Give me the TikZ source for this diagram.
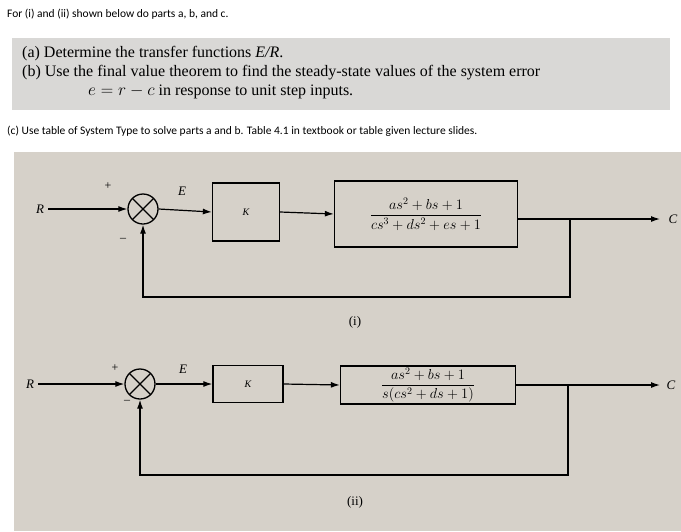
\documentclass[tikz,border=0pt]{standalone}
\usepackage{fontspec}
\setmainfont{Liberation Serif}
\newfontfamily\carlitofont{Carlito}
\usetikzlibrary{arrows.meta}
\definecolor{photo}{HTML}{D6D1C9}
\definecolor{qbox}{HTML}{D9D8D6}
\begin{document}
\begin{tikzpicture}[x=1pt,y=-1pt,
  blk/.style={draw,line width=1.3pt,inner sep=0pt},
  sig/.style={line width=1.2pt,-{Latex[length=9pt,width=6pt]}},
  ln/.style={line width=1.2pt},
  sumj/.style={draw,circle,line width=1.3pt,minimum size=30pt,inner sep=0pt,path picture={\draw[line width=1.2pt] (path picture bounding box.north west)--(path picture bounding box.south east) (path picture bounding box.north east)--(path picture bounding box.south west);}},
  lbl/.style={inner sep=0pt,font=\fontsize{13}{13}\selectfont\itshape}]
\useasboundingbox (0,0) rectangle (681,531);
\fill[white] (0,0) rectangle (681,531);
\fill[photo] (14,152) rectangle (681,531);
\fill[qbox] (12,38) rectangle (670,110);
\node[anchor=west,inner sep=0pt,font=\carlitofont\fontsize{11.5}{12}\selectfont] (t1) at (7,14) {For (i) and (ii) shown below do parts a, b, and c.};
\node[anchor=west,inner sep=0pt,font=\fontsize{16}{16}\selectfont] (ta) at (22,54) {(a) Determine the transfer functions \textit{E/R}.};
\node[anchor=west,inner sep=0pt,font=\fontsize{16}{16}\selectfont] (tb) at (22,73) {(b) Use the final value theorem to find the steady-state values of the system error};
\node[anchor=west,inner sep=0pt,font=\fontsize{16}{16}\selectfont] (tc) at (88,92) {$e=r-c$ in response to unit step inputs.};
\node[anchor=west,inner sep=0pt,font=\carlitofont\fontsize{11.5}{12}\selectfont] (t2) at (7,131) {(c) Use table of System Type to solve parts a and b. Table 4.1 in textbook or table given lecture slides.};
% diagram (i)
\node[lbl] (R1) at (40,209) {R};
\node[sumj] (S1) at (143,209) {};
\node[blk,minimum width=67pt,minimum height=58pt] (K1) at (246,212) {\itshape K};
\node[blk,minimum width=183pt,minimum height=66pt,font=\fontsize{14}{14}\selectfont] (G1) at (426,214) {$\displaystyle\frac{as^2+bs+1}{cs^3+ds^2+es+1}$};
\coordinate (C1) at (660,219);
\coordinate (F1) at (570,219);
\node[lbl] (Cl1) at (673,219) {C};
\node[inner sep=0pt,font=\fontsize{12}{12}\selectfont] (p1) at (108,186) {+};
\node[inner sep=0pt,font=\fontsize{12}{12}\selectfont] (m1) at (123,240) {--};
\node[lbl] (E1) at (182,191) {E};
\node[inner sep=0pt,font=\fontsize{13}{13}\selectfont] (i1) at (355,322) {(i)};
\draw[sig] (R1.east)++(4,0) -- (S1.west);
\draw[sig] (S1.east) -- (K1.west);
\draw[sig] (K1.east) -- (G1.west);
\draw[sig] (G1.east|-C1) -- (C1);
\draw[ln,-{Latex[length=9pt,width=6pt]}] (F1) -- (570,297) -- (143,297) -- (S1.south);
% diagram (ii)
\node[lbl] (R2) at (30,384) {R};
\node[sumj] (S2) at (140,384) {};
\node[blk,minimum width=70pt,minimum height=37pt] (K2) at (248,384) {\itshape K};
\node[blk,minimum width=175pt,minimum height=38pt,font=\fontsize{14}{14}\selectfont] (G2) at (428,385) {$\displaystyle\frac{as^2+bs+1}{s(cs^2+ds+1)}$};
\coordinate (C2) at (660,385);
\coordinate (F2) at (568,385);
\node[lbl] (Cl2) at (671,385) {C};
\node[inner sep=0pt,font=\fontsize{12}{12}\selectfont] (p2) at (115,368) {+};
\node[inner sep=0pt,font=\fontsize{12}{12}\selectfont] (m2) at (127,402) {--};
\node[lbl] (E2) at (183,369) {E};
\node[inner sep=0pt,font=\fontsize{13}{13}\selectfont] (i2) at (355,502) {(ii)};
\draw[sig] (R2.east)++(4,0) -- (S2.west);
\draw[sig] (S2.east) -- (K2.west);
\draw[sig] (K2.east) -- (G2.west);
\draw[sig] (G2.east|-C2) -- (C2);
\draw[ln,-{Latex[length=9pt,width=6pt]}] (F2) -- (568,475) -- (140,475) -- (S2.south);
\end{tikzpicture}
\end{document}
